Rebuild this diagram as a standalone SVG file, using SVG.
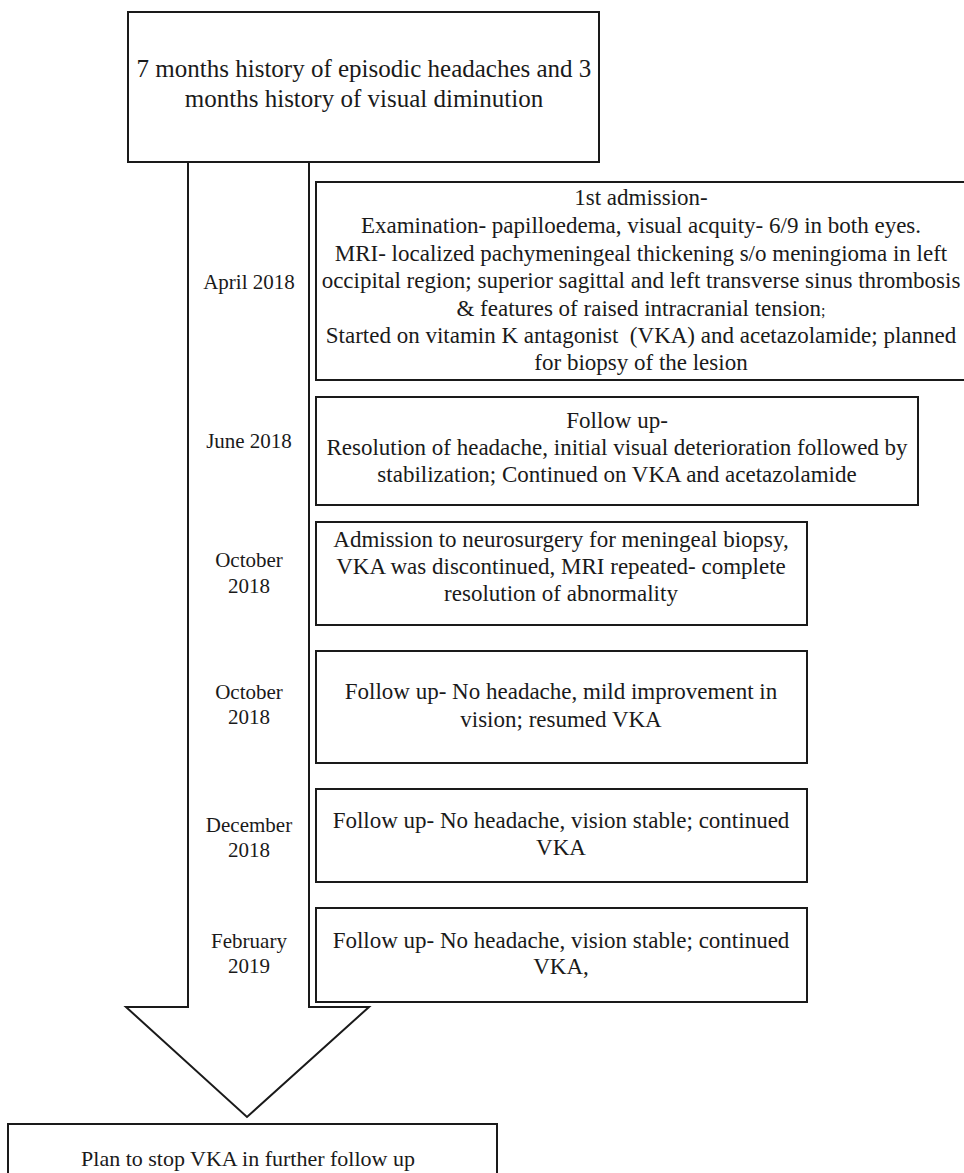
<svg xmlns="http://www.w3.org/2000/svg" width="964" height="1173" viewBox="0 0 964 1173">
<style>
.box{fill:#ffffff;stroke:#1a1a1a;stroke-width:2}
.arrow{fill:#ffffff;stroke:#1a1a1a;stroke-width:2;stroke-linejoin:miter}
text{font-family:"Liberation Serif","Times New Roman",serif;fill:#1a1a1a;text-anchor:middle}
.t25{font-size:25px}
.t23{font-size:23px}
.t22{font-size:22px}
.d{font-size:21px}
</style>
<rect width="964" height="1173" fill="#ffffff"/>
<g id="connectors">
<polygon class="arrow" points="188,160 309,160 309,1007 369,1007 247,1117 126,1007 188,1007"/>
</g>
<g id="dates">
<text class="d" x="249" y="289">April 2018</text>
<text class="d" x="249" y="448">June 2018</text>
<text class="d" x="249" y="567">October</text>
<text class="d" x="249" y="593">2018</text>
<text class="d" x="249" y="699">October</text>
<text class="d" x="249" y="724">2018</text>
<text class="d" x="249" y="832">December</text>
<text class="d" x="249" y="857">2018</text>
<text class="d" x="249" y="948">February</text>
<text class="d" x="249" y="973">2019</text>
</g>
<g id="history">
<rect class="box" x="128" y="12" width="471" height="150"/>
<text class="t25" x="364" y="77">7 months history of episodic headaches and 3</text>
<text class="t25" x="364" y="107">months history of visual diminution</text>
</g>
<g id="april2018">
<rect class="box" x="316" y="182" width="652" height="198"/>
<text class="t23" x="641" y="205">1st admission-</text>
<text class="t23" x="641" y="233">Examination- papilloedema, visual acquity- 6/9 in both eyes.</text>
<text class="t23" x="641" y="261">MRI- localized pachymeningeal thickening s/o meningioma in left</text>
<text class="t23" x="641" y="288">occipital region; superior sagittal and left transverse sinus thrombosis</text>
<text class="t23" x="641" y="316">&amp; features of raised intracranial tension<tspan font-size="16">;</tspan></text>
<text class="t23" x="641" y="343" xml:space="preserve">Started on vitamin K antagonist  (VKA) and acetazolamide; planned</text>
<text class="t23" x="641" y="370">for biopsy of the lesion</text>
</g>
<g id="june2018">
<rect class="box" x="316" y="397" width="602" height="108"/>
<text class="t23" x="617" y="428">Follow up-</text>
<text class="t23" x="617" y="455">Resolution of headache, initial visual deterioration followed by</text>
<text class="t23" x="617" y="482">stabilization; Continued on VKA and acetazolamide</text>
</g>
<g id="october2018a">
<rect class="box" x="316" y="522" width="491" height="103"/>
<text class="t23" x="561" y="547">Admission to neurosurgery for meningeal biopsy,</text>
<text class="t23" x="561" y="574">VKA was discontinued, MRI repeated- complete</text>
<text class="t23" x="561" y="601">resolution of abnormality</text>
</g>
<g id="october2018b">
<rect class="box" x="316" y="651" width="491" height="112"/>
<text class="t23" x="561" y="699">Follow up- No headache, mild improvement in</text>
<text class="t23" x="561" y="727">vision; resumed VKA</text>
</g>
<g id="december2018">
<rect class="box" x="316" y="789" width="491" height="93"/>
<text class="t23" x="561" y="828">Follow up- No headache, vision stable; continued</text>
<text class="t23" x="561" y="855">VKA</text>
</g>
<g id="february2019">
<rect class="box" x="316" y="908" width="491" height="94"/>
<text class="t23" x="561" y="948">Follow up- No headache, vision stable; continued</text>
<text class="t23" x="561" y="974">VKA,</text>
</g>
<g id="plan">
<rect class="box" x="8" y="1124" width="489" height="70"/>
<text class="t22" x="248" y="1166">Plan to stop VKA in further follow up</text>
</g>
</svg>
